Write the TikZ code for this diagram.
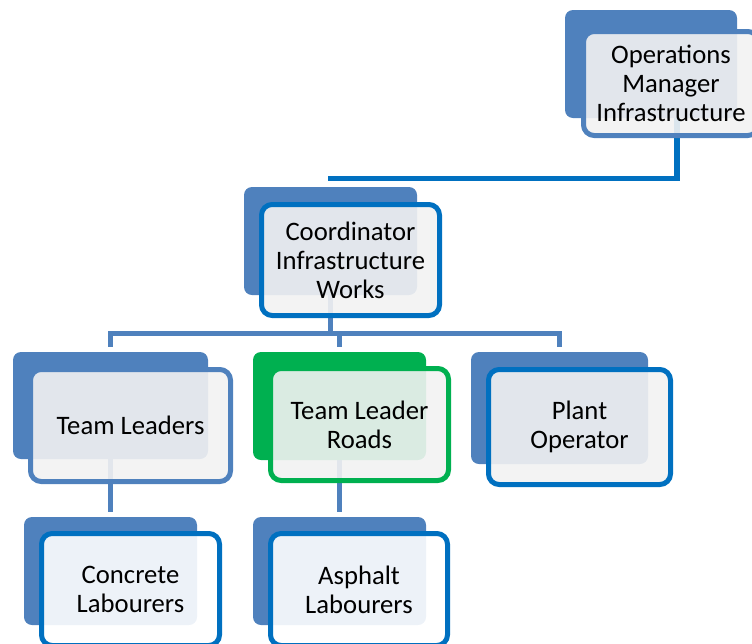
\documentclass[tikz,border=0pt]{standalone}
\usepackage{fontspec}
\setmainfont{Carlito}
\usetikzlibrary{backgrounds}
\definecolor{boxblue}{HTML}{4F81BD}
\definecolor{linkblue}{HTML}{0070C0}
\definecolor{boxgreen}{HTML}{00B050}
\definecolor{paper}{HTML}{F2F2F2}
\begin{document}
\begin{tikzpicture}[x = 0.75pt, y = -0.75pt,
  back/.style = {fill = boxblue, rounded corners = 6pt, inner sep = 0pt},
  front/.style = {draw = linkblue, line width = 3.75pt, fill = paper, fill opacity = 0.9, text opacity = 1,
    rounded corners = 8pt, align = center, inner sep = 0pt, font = \fontsize{20}{21.75}\selectfont},
  link/.style = {draw = boxblue, line width = 4pt}]
\useasboundingbox (0,0) rectangle (752,643);
\clip (0,0) rectangle (752,643);
% back plates
\node[back, minimum width = 129pt, minimum height = 81pt] (opsBack) at (651,64) {};
\node[back, minimum width = 129.75pt, minimum height = 81pt] (coordBack) at (330.5,241) {};
\node[back, minimum width = 146.25pt, minimum height = 80.25pt] (tlBack) at (110.5,405.5) {};
\node[back, fill = boxgreen, minimum width = 129.75pt, minimum height = 81pt] (roadsBack) at (339.5,406) {};
\node[back, minimum width = 132.75pt, minimum height = 84pt] (plantBack) at (559.5,408) {};
\node[back, minimum width = 129.75pt, minimum height = 81pt] (concreteBack) at (110.5,571) {};
\node[back, minimum width = 129.75pt, minimum height = 81pt] (asphaltBack) at (339.5,571) {};
% front boxes with the titles
\node[front, draw = boxblue, minimum width = 131.25pt, minimum height = 78pt] (ops) at (671,83.5) {Operations\\Manager\\Infrastructure};
\node[front, minimum width = 133.5pt, minimum height = 83.25pt] (coord) at (350.5,260) {Coordinator\\Infrastructure\\Works};
\node[front, draw = boxblue, minimum width = 150pt, minimum height = 84pt] (tl) at (130.5,425.5) {Team Leaders};
\node[front, draw = boxgreen, minimum width = 133.5pt, minimum height = 84pt] (roads) at (359.5,424.5) {Team Leader\\Roads};
\node[front, minimum width = 136.5pt, minimum height = 86.25pt] (plant) at (579.5,427) {Plant\\Operator};
\node[front, fill = white, minimum width = 133.5pt, minimum height = 84pt] (concrete) at (130.5,589.5) {Concrete\\Labourers};
\node[front, fill = white, minimum width = 132.75pt, minimum height = 84pt] (asphalt) at (359,589.5) {Asphalt\\Labourers};
\coordinate (topEnd) at (328,178.5);
\coordinate (bus) at (330.5,333.5);
\begin{pgfonlayer}{background}
\draw[link, draw = linkblue] ([xshift = 19.5pt]opsBack.center) |- (topEnd);
\draw[link] (coordBack.center) -- (bus);
\draw[link, shorten >= 3.75pt] (bus) -| (tlBack.north);
\draw[link, shorten >= 3.75pt] (bus) -| (roadsBack.north);
\draw[link, shorten >= 3.75pt] (bus) -| (plantBack.north);
\draw[link, shorten >= 3.75pt] (tlBack.center) -- (concreteBack.north);
\draw[link, shorten >= 3.75pt] (roadsBack.center) -- (asphaltBack.north);
\end{pgfonlayer}
\end{tikzpicture}
\end{document}
